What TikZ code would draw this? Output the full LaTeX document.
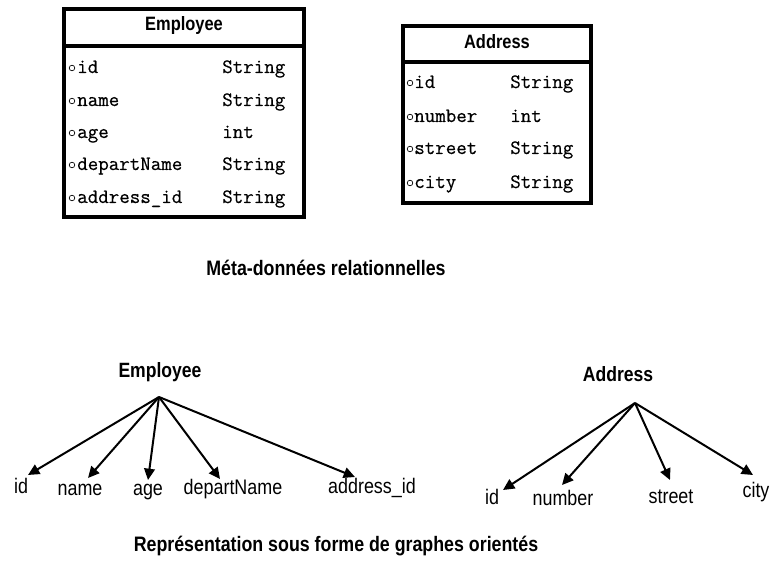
\documentclass[tikz,border=0pt]{standalone}
\usepackage{fontspec}
\setmainfont{Liberation Sans}[FakeStretch=0.85]
\setmonofont{Latin Modern Mono}[FakeBold=0.5]
\usetikzlibrary{arrows.meta}
\begin{document}
\begin{tikzpicture}[x=0.75pt,y=-0.75pt,
  tablebox/.style={line width=2.4pt},
  headtxt/.style={font=\fontsize{14.5}{16}\selectfont\bfseries, inner sep=0pt},
  celltxt/.style={font=\ttfamily\fontsize{15.3}{17}\selectfont, anchor=base west, inner sep=0pt},
  bullet/.style={circle, draw, line width=0.5pt, minimum size=4.2pt, inner sep=0pt},
  captxt/.style={font=\fontsize{15.7}{18}\selectfont\bfseries, inner sep=0pt},
  roottxt/.style={font=\fontsize{15.5}{18}\selectfont\bfseries, inner sep=0pt},
  leaftxt/.style={font=\fontsize{15.8}{18}\selectfont, inner sep=0pt},
  edge/.style={line width=1.5pt, -{Triangle[length=8.5pt,width=8pt]}}
]
\useasboundingbox (0,0) rectangle (771,577);

% ---------- table Employee ----------
\draw[tablebox] (64,9) rectangle (304,217);
\draw[tablebox] (64,46) -- (304,46);
\node[headtxt] (empHead) at (184,26) {Employee};
\foreach \y/\n/\t [count=\i] in {73/id/String, 106/name/String, 138/age/int, 170/departName/String, 203/address\_id/String}{
  \node[bullet] (empB\i) at (72,\y-5) {};
  \node[celltxt] (empN\i) at (77,\y) {\n};
  \node[celltxt] (empT\i) at (222,\y) {\t};
}

% ---------- table Address ----------
\draw[tablebox] (403,26) rectangle (591,203);
\draw[tablebox] (403,62) -- (591,62);
\node[headtxt] (adrHead) at (497,42) {Address};
\foreach \y/\n/\t [count=\i] in {88/id/String, 122/number/int, 154/street/String, 188/city/String}{
  \node[bullet] (adrB\i) at (410,\y-5) {};
  \node[celltxt] (adrN\i) at (414,\y) {\n};
  \node[celltxt] (adrT\i) at (510,\y) {\t};
}

\node[captxt] (cap1) at (326,268) {Méta-données relationnelles};

% ---------- graph Employee ----------
\node[roottxt] (gEmp) at (160,372) {Employee};
\coordinate (rEmp) at (159,397);
\node[leaftxt] (eId)   at (21,486)  {id};
\node[leaftxt] (eName) at (80,490)  {name};
\node[leaftxt] (eAge)  at (148,492) {age};
\node[leaftxt] (eDep)  at (233,489) {departName};
\node[leaftxt] (eAdr)  at (372,488) {address\_id};
\coordinate (tId)   at (28,475);
\coordinate (tName) at (88,478);
\coordinate (tAge)  at (148,480);
\coordinate (tDep)  at (220,479);
\coordinate (tAdr)  at (355,477);
\foreach \t in {tId,tName,tAge,tDep,tAdr}
  \draw[edge] (rEmp) -- (\t);

% ---------- graph Address ----------
\node[roottxt] (gAdr) at (618,374) {Address};
\coordinate (rAdr) at (635,403);
\node[leaftxt] (aId)   at (492,497) {id};
\node[leaftxt] (aNum)  at (563,498) {number};
\node[leaftxt] (aStr)  at (671,497) {street};
\node[leaftxt] (aCity) at (756,492) {city};
\coordinate (uId)   at (503,490);
\coordinate (uNum)  at (562,485);
\coordinate (uStr)  at (670,480);
\coordinate (uCity) at (753,475);
\foreach \t in {uId,uNum,uStr,uCity}
  \draw[edge] (rAdr) -- (\t);

\node[captxt] (cap2) at (336,546) {Représentation sous forme de graphes orientés};
\end{tikzpicture}
\end{document}
